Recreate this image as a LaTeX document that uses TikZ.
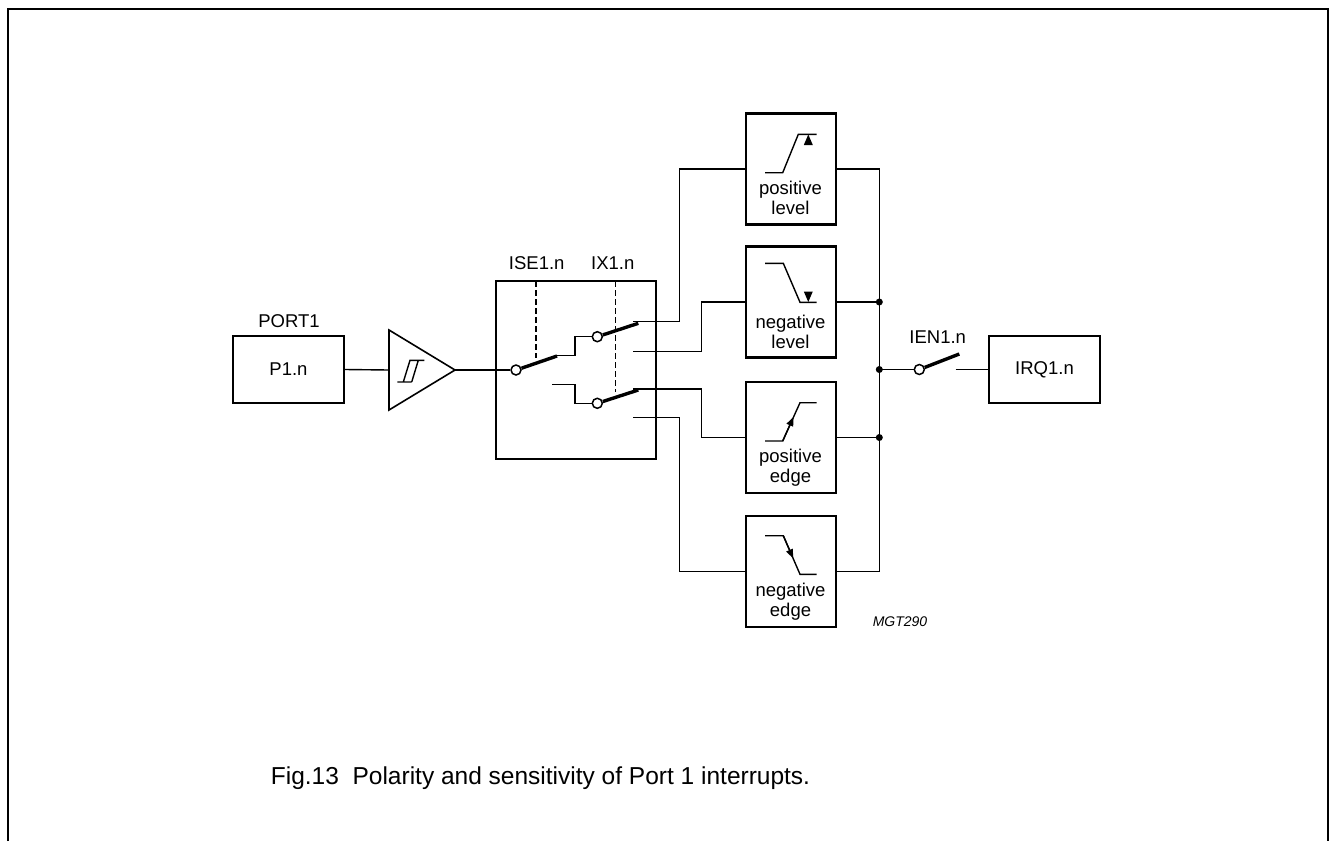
\documentclass[tikz,border=0pt]{standalone}
\usepackage{fontspec}
\setmainfont{Liberation Sans}
\usetikzlibrary{arrows.meta}
\begin{document}
\begin{tikzpicture}[x=1pt,y=-1pt,
  wire/.style={line width=1.4pt},
  boxst/.style={draw,line width=2.4pt,inner sep=0pt,font=\fontsize{18.5}{20}\selectfont},
  blade/.style={line width=3.4pt},
  pivot/.style={circle,draw,line width=1.5pt,fill=white,minimum size=10pt,inner sep=0pt},
  jdot/.style={circle,fill=black,minimum size=7pt,inner sep=0pt},
  lbl/.style={font=\fontsize{18.5}{20}\selectfont,inner sep=0pt},
  dashv/.style={line width=1.3pt,dash pattern=on 6pt off 3pt},
  edgearrow/.style={line width=1.4pt,-{Triangle[length=9pt,width=7pt]}},
]
\useasboundingbox (0,0) rectangle (1329,841);
% frame
\draw[line width=2pt] (7.5,841) -- (7.5,9) -- (1327.5,9) -- (1327.5,841);

% port box
\node[boxst,minimum width=111pt,minimum height=67pt] (p1) at (288.5,369.5) {P1.n};
\node[lbl] (port) at (289,321) {PORT1};

% schmitt trigger
\coordinate (trin) at (389,370);
\coordinate (trout) at (455,370);
\draw[line width=1.6pt,line join=miter] (389,330) -- (trout) -- (389,410) -- cycle;
\draw[wire] (397.3,382) -- (411.7,382) (403.3,382) -- (410,360.3) -- (424.3,360.3)
            (411.7,382) -- (418.3,360.3);
\draw[wire] (p1.east) -- (trin);

% switch box
\node[boxst,minimum width=160pt,minimum height=178pt] (sw) at (576,370) {};
\node[lbl] (ise) at (536.7,263.3) {ISE1.n};
\node[lbl] (ix) at (612.7,263.3) {IX1.n};
\draw[dashv] (536,281) -- (536,358);
\draw[dashv] (615.7,281) -- (615.7,391.7);

\node[pivot] (c1) at (516,370) {};
\node[pivot] (c2) at (597.3,336.7) {};
\node[pivot] (c3) at (597.3,403.3) {};
\draw[wire] (trout) -- (c1.west);
\draw[blade] (c1.18) -- (557,356);
\draw[wire] (556,355.5) -- (575,355.5) -- (575,336.7) -- (c2.west);
\draw[wire] (552.3,384.3) -- (575,384.3) -- (575,403.3) -- (c3.west);
\draw[blade] (c2.18) -- (638.3,323.3);
\draw[blade] (c3.18) -- (638.3,390);

% level / edge boxes
\node[boxst,minimum width=90pt,minimum height=111pt] (pl) at (791,169) {};
\node[boxst,minimum width=90pt,minimum height=111pt] (nl) at (791,302) {};
\node[boxst,minimum width=90pt,minimum height=111pt] (pe) at (791,437.5) {};
\node[boxst,minimum width=90pt,minimum height=111pt] (ne) at (791,571.5) {};

\node[lbl,align=center] (plt) at (790.5,198) {positive\\level};
\node[lbl,align=center] (nlt) at (790.5,331.5) {negative\\level};
\node[lbl,align=center] (pet) at (790.5,468) {positive\\edge};
\node[lbl,align=center] (net) at (790.5,601.5) {negative\\edge};

% waveforms
\draw[wire] (765,172.7) -- (782.7,172.7) -- (798.3,134.3) -- (816.7,134.3);
\fill (808.3,134.5) -- (803.8,145) -- (812.8,145) -- cycle;
\draw[wire] (765,263.3) -- (783.3,263.3) -- (800,302.3) -- (816.7,302.3);
\fill (808.3,302) -- (803.8,291.5) -- (812.8,291.5) -- cycle;
\draw[wire] (765,441) -- (782.7,441) -- (800,402.7) -- (816.7,402.7);
\draw[edgearrow] (782.7,441) -- (793.5,417);
\draw[wire] (765,535.7) -- (783.3,535.7) -- (800,574.3) -- (816.7,574.3);
\draw[edgearrow] (783.3,535.7) -- (793.1,558.3);

% switch outputs to boxes
\draw[wire] (633,321.3) -- (679.3,321.3) |- (pl.west);
\draw[wire] (633,351.7) -- (701.7,351.7) |- (nl.west);
\draw[wire] (633,389) -- (701.7,389) |- (pe.west);
\draw[wire] (633,417.7) -- (679.3,417.7) |- (ne.west);

% bus
\coordinate (b1) at (879.3,169);
\coordinate (b2) at (879.3,302);
\coordinate (bc) at (879.3,369.5);
\coordinate (b3) at (879.3,437.5);
\coordinate (b4) at (879.3,571.5);
\draw[wire] (pl.east) -- (b1) -- (b4) -- (ne.east);
\draw[wire] (nl.east) -- (b2);
\draw[wire] (pe.east) -- (b3);
\node[jdot] (d2) at (b2) {};
\node[jdot] (dc) at (bc) {};
\node[jdot] (d3) at (b3) {};

% IEN switch and IRQ
\node[boxst,minimum width=111pt,minimum height=67pt] (irq) at (1044.5,369.5) {IRQ1.n};
\node[pivot] (c4) at (919.3,369.5) {};
\node[lbl] (ien) at (937.7,336.7) {IEN1.n};
\draw[wire] (bc) -- (c4.west);
\draw[blade] (c4.21) -- (959.3,354);
\draw[wire] (955.7,369.5) -- (irq.west);

% labels
\node[font=\itshape\fontsize{14}{16}\selectfont,inner sep=0pt] (mgt) at (900,622) {MGT290};
\node[font=\fontsize{24.5}{26}\selectfont,inner sep=0pt] (cap) at (540.5,778) {Fig.13\ \ Polarity and sensitivity of Port 1 interrupts.};
\end{tikzpicture}
\end{document}
